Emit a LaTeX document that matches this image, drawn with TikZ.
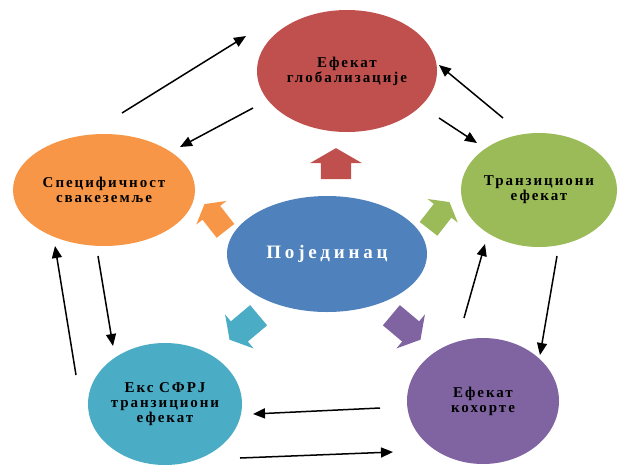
\documentclass[tikz,border=0pt]{standalone}
\usepackage{fontspec}
\setmainfont{Liberation Serif}
\newfontfamily\lblfont[LetterSpace=13]{Liberation Serif}
\usetikzlibrary{shapes.geometric,shapes.arrows,arrows.meta}
\definecolor{cred}{HTML}{C0504D}
\definecolor{corange}{HTML}{F79646}
\definecolor{cgreen}{HTML}{9BBB59}
\definecolor{cblue}{HTML}{4F81BD}
\definecolor{cteal}{HTML}{4BACC6}
\definecolor{cpurple}{HTML}{8064A2}
\tikzset{
  oval/.style={ellipse, inner sep=0pt, align=center,
    font=\lblfont\bfseries\fontsize{15}{15}\selectfont},
  blk/.style={single arrow, draw=none, inner sep=0pt, text depth=0pt,
    single arrow tip angle=120, single arrow head indent=0pt}
}
\tikzset{link/.style={line width=1.5pt, -{Triangle[length=12pt,width=10pt]}}}
\begin{document}
\begin{tikzpicture}[x=1pt,y=-1pt]
		\useasboundingbox (0,0) rectangle (618,464);
		
		% ellipses
		\node[oval, fill=cred, minimum width=180pt, minimum height=122pt] (glob) at (347,71) {Ефекат\\глобализације};
		\node[oval, fill=corange, minimum width=182pt, minimum height=112pt] (spec) at (104,190) {Специфичност\\свакеземље};
		\node[oval, fill=cgreen, minimum width=156pt, minimum height=114pt] (tranz) at (539,190) {Транзициони\\ефекат};
		\node[oval, fill=cteal, minimum width=154pt, minimum height=122pt] (sfrj) at (165,404) {Екс СФРЈ\\транзициони\\ефекат};
		\node[oval, fill=cpurple, minimum width=152pt, minimum height=126pt] (kohort) at (483,401) {Ефекат\\кохорте};
		\node[oval, fill=cblue, minimum width=200pt, minimum height=116pt, text=white,
			font=\addfontfeature{LetterSpace=20}\bfseries\fontsize{19}{20}\selectfont] (pojed) at (327,254) {Појединац};
		
		% block arrows
		\node[blk, fill=cred, text height=30pt, minimum height=31pt, single arrow head extend=11pt, rotate=90] (bglob) at (336,168) {};
		\node[blk, fill=corange, text height=22pt, minimum height=34pt, single arrow head extend=8pt, rotate=128] (bspec) at (217,220) {};
		\node[blk, fill=cgreen, text height=22pt, minimum height=34pt, single arrow head extend=8pt, rotate=52] (btranz) at (437,218) {};
		\node[blk, fill=cteal, text height=26pt, minimum height=38pt, single arrow head extend=9pt, rotate=220] (bsfrj) at (247,325) {};
		\node[blk, fill=cpurple, text height=26pt, minimum height=38pt, single arrow head extend=9pt, rotate=-40] (bkohort) at (403,325) {};
		
		% arrow ends
		\coordinate (s1) at (122,113); \coordinate (e1) at (246,36);
		\coordinate (s2) at (253,108); \coordinate (e2) at (180,147);
		\coordinate (s3) at (503,118); \coordinate (e3) at (439,65);
		\coordinate (s4) at (439,118); \coordinate (e4) at (477,143);
		\coordinate (s5) at (557,256); \coordinate (e5) at (540,355);
		\coordinate (s6) at (464,318); \coordinate (e6) at (485,244);
		\coordinate (s7) at (380,408); \coordinate (e7) at (253,414);
		\coordinate (s8) at (240,458); \coordinate (e8) at (393,452);
		\coordinate (s9) at (76,375);  \coordinate (e9) at (55,246);
		\coordinate (s10) at (98,256); \coordinate (e10) at (113,346);
		
		\foreach \i in {1,...,10}
			\draw[link] (s\i) -- (e\i);
	\end{tikzpicture}
\end{document}
